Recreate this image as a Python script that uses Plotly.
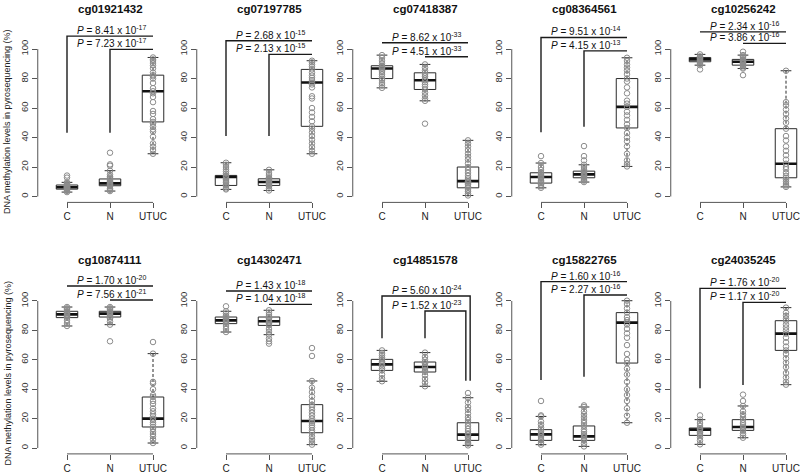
import plotly.graph_objects as go

# ---------------- data ----------------
probes = ["cg01921432", "cg07197785", "cg07418387", "cg08364561", "cg10256242",
          "cg10874111", "cg14302471", "cg14851578", "cg15822765", "cg24035245"]
group_labels = ["C", "N", "UTUC"]
y_ticks = [0, 20, 40, 60, 80, 100]

# five-number summaries: [lower whisker, Q1, median, Q3, upper whisker]
box_C = [[3.0, 5.0, 6.3, 7.8, 9.6], [4.8, 7.5, 13.2, 14.3, 22.9], [73.7, 80.0, 86.8, 88.7, 95.9],
         [5.9, 9.1, 13.2, 16.1, 22.7], [89.1, 91.4, 93.0, 94.3, 96.4], [83.0, 88.7, 90.9, 93.0, 95.9],
         [78.9, 84.6, 86.8, 89.1, 93.0], [45.4, 52.8, 56.9, 60.3, 66.4], [2.3, 5.2, 9.3, 12.5, 21.5],
         [2.5, 8.6, 12.5, 13.6, 19.3]]
box_N = [[3.7, 7.3, 8.9, 11.9, 17.5], [4.1, 7.5, 9.8, 12.0, 18.1], [64.9, 72.6, 78.9, 83.9, 89.6],
         [9.8, 12.7, 15.0, 17.2, 21.5], [86.8, 89.1, 91.4, 93.0, 95.9], [83.9, 89.1, 91.4, 93.0, 95.9],
         [77.1, 83.4, 86.2, 89.1, 93.7], [42.0, 51.7, 55.1, 58.5, 64.9], [1.1, 5.2, 7.9, 15.0, 27.9],
         [7.0, 12.0, 14.3, 19.3, 28.6]]
box_U = [[29.0, 50.6, 71.4, 82.3, 94.3], [29.0, 47.6, 77.3, 86.2, 92.1], [0.7, 5.9, 10.4, 20.0, 38.1],
         [20.4, 46.5, 60.8, 80.0, 94.1], [6.5, 12.7, 22.2, 46.0, 85.3], [3.4, 14.3, 20.0, 34.7, 64.2],
         [2.3, 10.4, 18.4, 29.5, 45.6], [1.8, 5.2, 9.1, 17.2, 34.2], [17.2, 57.8, 85.3, 92.1, 100.2],
         [43.1, 66.4, 77.8, 86.6, 95.5]]

# individual samples
pts_C = [
    [3.0, 3.8, 4.5, 5.0, 5.3, 5.8, 6.0, 6.2, 6.4, 6.5, 6.8, 7.0, 7.3, 7.8, 8.4, 9.0, 9.6, 12.8, 14.2],
    [4.8, 5.5, 6.5, 7.5, 8.2, 9.5, 10.5, 11.5, 12.5, 13.2, 13.8, 14.3, 15.5, 17.0, 18.5, 20.0, 21.5, 22.9],
    [73.7, 75.5, 77.0, 79.0, 80.0, 81.5, 83.0, 84.5, 85.5, 86.8, 87.5, 88.0, 88.7, 90.0, 92.0, 94.0, 95.9],
    [5.9, 7.0, 8.0, 9.1, 10.0, 11.0, 12.0, 12.8, 13.2, 13.8, 14.5, 15.2, 16.1, 18.0, 20.0, 22.7, 27.4],
    [86.2, 89.1, 90.0, 91.0, 91.4, 92.0, 92.5, 93.0, 93.4, 93.8, 94.3, 95.0, 96.4],
    [83.0, 85.0, 87.0, 88.7, 89.5, 90.2, 90.9, 91.5, 92.0, 92.5, 93.0, 94.0, 95.0, 95.9],
    [78.9, 81.0, 83.0, 84.6, 85.5, 86.3, 86.8, 87.5, 88.2, 89.1, 90.0, 91.5, 93.0, 96.4],
    [45.4, 47.5, 50.0, 52.8, 54.0, 55.5, 56.9, 58.0, 59.0, 60.3, 61.5, 63.0, 64.5, 66.4],
    [2.3, 3.5, 5.2, 6.0, 7.5, 8.5, 9.3, 10.0, 11.0, 12.5, 14.0, 16.0, 18.0, 21.5, 22.2, 32.0],
    [2.5, 5.0, 7.0, 8.6, 9.5, 10.5, 11.5, 12.5, 13.0, 13.6, 15.0, 17.0, 19.3, 22.2],
]
pts_N = [
    [3.7, 4.5, 5.5, 6.8, 7.3, 7.9, 8.5, 8.9, 9.5, 10.2, 11.0, 11.9, 12.6, 13.5, 14.8, 17.5, 20.9, 21.8, 29.7],
    [4.1, 5.5, 6.8, 7.5, 8.3, 9.0, 9.5, 9.8, 10.3, 11.0, 11.6, 12.0, 13.0, 14.5, 16.0, 18.1],
    [49.4, 64.9, 66.5, 68.5, 70.5, 72.6, 74.5, 76.0, 77.5, 78.9, 80.0, 81.5, 82.5, 83.9, 85.5, 87.5, 89.6],
    [9.8, 10.8, 11.8, 12.7, 13.4, 14.0, 14.6, 15.0, 15.6, 16.2, 17.2, 18.5, 20.0, 21.5, 24.5, 27.4, 34.2],
    [82.3, 86.8, 87.5, 88.5, 89.1, 90.0, 90.5, 91.0, 91.4, 92.0, 92.5, 93.0, 94.0, 95.0, 95.9, 98.2],
    [72.6, 83.9, 86.0, 88.0, 89.1, 90.0, 90.8, 91.4, 92.0, 92.5, 93.0, 94.0, 95.0, 95.9],
    [71.0, 72.6, 74.4, 77.1, 79.0, 81.0, 83.4, 84.5, 85.5, 86.2, 87.0, 88.0, 89.1, 90.5, 92.0, 93.7],
    [42.0, 44.5, 47.0, 49.5, 51.7, 53.0, 54.5, 55.1, 56.0, 57.5, 58.5, 60.0, 62.0, 64.9],
    [1.1, 3.0, 5.2, 6.0, 7.0, 7.9, 8.5, 9.5, 11.0, 12.5, 15.0, 17.0, 19.0, 21.0, 23.0, 25.0, 27.9, 29.0],
    [7.0, 8.5, 10.0, 12.0, 13.0, 14.3, 15.5, 17.0, 19.3, 21.0, 23.0, 25.0, 28.6, 32.0, 36.3],
]
pts_U = [
    [29.0, 31.5, 33.8, 36.0, 40.5, 44.0, 45.5, 47.5, 49.5, 50.6, 52.5, 56.0, 58.0, 64.0, 67.5, 70.0, 71.4,
     73.5, 77.0, 80.0, 81.5, 82.3, 84.0, 87.0, 89.0, 90.5, 92.0, 93.0, 94.3],
    [29.0, 31.0, 33.5, 36.0, 38.5, 41.0, 43.5, 46.0, 47.6, 51.0, 54.0, 57.0, 60.0, 66.5, 68.0, 74.0, 76.0,
     77.3, 79.0, 80.5, 82.0, 84.0, 86.2, 88.0, 89.5, 91.0, 92.1],
    [0.7, 2.0, 3.5, 4.5, 5.9, 7.0, 8.0, 9.0, 10.0, 10.4, 11.5, 12.5, 14.0, 16.0, 18.0, 20.0, 22.5, 25.0,
     27.0, 29.0, 31.5, 34.0, 36.0, 38.1],
    [20.4, 22.0, 24.5, 29.0, 34.0, 37.5, 40.0, 43.0, 46.5, 49.0, 52.0, 55.0, 57.5, 60.8, 63.0, 65.0, 70.0,
     74.0, 78.0, 80.0, 83.0, 85.5, 87.5, 89.5, 92.0, 94.1],
    [6.5, 7.5, 8.5, 10.0, 11.5, 12.7, 14.0, 16.0, 18.5, 20.0, 22.2, 25.0, 28.0, 31.0, 34.0, 38.0, 41.0,
     46.0, 50.0, 53.0, 56.0, 59.0, 62.0, 64.0, 85.3],
    [3.4, 6.0, 8.0, 9.5, 11.0, 13.0, 14.3, 16.0, 17.5, 19.0, 20.0, 21.5, 23.0, 25.0, 27.0, 30.0, 32.0,
     34.7, 36.0, 40.0, 44.0, 45.0, 64.2, 72.1],
    [2.3, 4.0, 6.0, 8.0, 10.4, 12.0, 14.0, 15.5, 17.0, 18.4, 20.0, 22.0, 24.0, 26.0, 28.0, 29.5, 32.0,
     35.0, 38.0, 41.0, 45.6, 62.6, 68.0],
    [1.8, 3.0, 4.0, 5.2, 6.0, 7.0, 8.0, 9.1, 10.0, 11.5, 13.0, 15.0, 17.2, 19.0, 21.0, 23.5, 26.0, 28.0,
     31.0, 34.2, 37.4],
    [17.2, 22.0, 27.0, 32.0, 36.0, 40.0, 45.0, 50.0, 54.0, 57.8, 60.0, 64.0, 70.0, 75.0, 78.0, 81.0, 84.0,
     85.3, 87.0, 89.0, 92.1, 95.0, 98.0, 100.2],
    [43.1, 45.0, 48.0, 51.0, 55.0, 58.0, 61.0, 64.0, 66.4, 69.0, 72.0, 75.0, 77.8, 80.0, 82.0, 84.0, 86.6,
     88.0, 90.0, 92.0, 95.5],
]

# P-values (C vs UTUC on top, N vs UTUC below)
p_top_mant = ["8.41", "2.68", "8.62", "9.51", "2.34", "1.70", "1.43", "5.60", "1.60", "1.76"]
p_top_exp = ["-17", "-15", "-33", "-14", "-16", "-20", "-18", "-24", "-16", "-20"]
p_sec_mant = ["7.23", "2.13", "4.51", "4.15", "3.86", "7.56", "1.04", "1.52", "2.27", "1.17"]
p_sec_exp = ["-17", "-15", "-33", "-13", "-16", "-21", "-18", "-23", "-16", "-20"]

# bracket heights and drop ends (y values), None = no vertical leg
bracket_top_y = [108.8, 105.6, 104.3, 107.9, 111.7, 110.2, 106.8, 103.4, 113.2, 108.6]
bracket_sec_y = [99.8, 96.4, 94.8, 98.8, 103.9, 100.7, 97.7, 93.2, 104.1, 99.1]
drop_C = [43.3, 41.0, None, 43.5, None, None, None, 74.6, 46.3, 40.6]
drop_N = [43.3, 41.0, None, 47.3, None, None, None, 74.6, 48.5, 42.9]
drop_U = [None, None, None, None, None, None, None, 45.8, None, None]

# ---------------- layout geometry ----------------
W, H = 800, 474
col_C_px = [67, 226, 382, 541, 700]
ppu = 43.0
left_units = 0.68
row_dom = [[0.573, 0.940], [0.0424, 0.4084]]
y_range = [-4, 114]
title_px = [9, 260]
ylab_px = [122, 373.5]

FONT = "Liberation Sans, Arial, sans-serif"
LINE = "#2b2b2b"
AXC = "#555555"
PTC = "#8c8c8c"
hw = 0.25   # half box width
sw = 0.125  # half staple width

fig = go.Figure()
layout = {}
shapes = []
annotations = []

for i, probe in enumerate(probes):
    r, c = divmod(i, 5)
    suf = "" if i == 0 else str(i + 1)
    xr, yr = "x" + suf, "y" + suf
    C = col_C_px[c]
    x0px = C - left_units * ppu
    x1px = min(C + 2.62 * ppu, W)
    xrange = [1 - left_units, 1 + (x1px - C) / ppu]

    boxes = [box_C[i], box_N[i], box_U[i]]
    pts = [pts_C[i], pts_N[i], pts_U[i]]

    bx, by, mx, my, wx, wy, sx, sy = [], [], [], [], [], [], [], []
    for g, (lo, q1, med, q3, hi) in enumerate(boxes, start=1):
        bx += [g - hw, g + hw, g + hw, g - hw, g - hw, None]
        by += [q1, q1, q3, q3, q1, None]
        mx += [g - hw, g + hw, None]
        my += [med, med, None]
        wx += [g, g, None, g, g, None]
        wy += [q3, hi, None, q1, lo, None]
        sx += [g - sw, g + sw, None, g - sw, g + sw, None]
        sy += [hi, hi, None, lo, lo, None]

    common = dict(xaxis=xr, yaxis=yr, showlegend=False, hoverinfo="skip")
    fig.add_trace(go.Scatter(x=wx, y=wy, mode="lines", line=dict(color=LINE, width=1, dash="3px,2px"), **common))
    fig.add_trace(go.Scatter(x=sx, y=sy, mode="lines", line=dict(color=LINE, width=1), **common))
    fig.add_trace(go.Scatter(x=bx, y=by, mode="lines", line=dict(color=LINE, width=1), **common))
    fig.add_trace(go.Scatter(x=mx, y=my, mode="lines", line=dict(color="#111111", width=2.6), **common))

    px_, py_ = [], []
    for g, vals in enumerate(pts, start=1):
        px_ += [g] * len(vals)
        py_ += vals
    fig.add_trace(go.Scatter(x=px_, y=py_, mode="markers",
                             marker=dict(symbol="circle-open", size=5.5, color=PTC, line=dict(width=1, color=PTC)),
                             xaxis=xr, yaxis=yr, showlegend=False))

    # brackets
    top, sec = bracket_top_y[i], bracket_sec_y[i]
    ux_top = 3.05 if drop_U[i] is not None else 3
    ux_sec = 2.95 if drop_U[i] is not None else 3
    kx = [1, 1, ux_top, ux_top, None, 2, 2, ux_sec, ux_sec]
    ky = [drop_C[i] if drop_C[i] is not None else top, top, top,
          drop_U[i] if drop_U[i] is not None else top, None,
          drop_N[i] if drop_N[i] is not None else sec, sec, sec,
          drop_U[i] if drop_U[i] is not None else sec]
    fig.add_trace(go.Scatter(x=kx, y=ky, mode="lines", line=dict(color="#1a1a1a", width=1.4), **common))

    for yv, mant, ex in [(top, p_top_mant[i], p_top_exp[i]), (sec, p_sec_mant[i], p_sec_exp[i])]:
        annotations.append(dict(x=3, y=yv, xref=xr, yref=yr, xanchor="right", yanchor="bottom",
                                xshift=-5, yshift=-2, showarrow=False,
                                text=f"<i>P</i> = {mant} x 10<sup>{ex}</sup>",
                                font=dict(family=FONT, size=10, color="#111111")))

    # titles
    annotations.append(dict(x=(C + ppu) / W, y=1 - title_px[r] / H, xref="paper", yref="paper",
                            xanchor="center", yanchor="middle", showarrow=False, text=f"<b>{probe}</b>",
                            font=dict(family=FONT, size=11.5, color="#111111")))

    layout["xaxis" + suf] = dict(domain=[x0px / W, x1px / W], range=xrange, anchor=yr,
                                 tickvals=[1, 2, 3], ticktext=group_labels, ticks="outside", ticklen=5,
                                 tickcolor=AXC, tickwidth=1, showline=False, showgrid=False, zeroline=False,
                                 tickfont=dict(family=FONT, size=10, color="#222222"), fixedrange=True)
    layout["yaxis" + suf] = dict(domain=row_dom[r], range=y_range, anchor=xr,
                                 tickvals=y_ticks, tickangle=-90, ticks="outside", ticklen=5,
                                 tickcolor=AXC, tickwidth=1, showline=False, showgrid=False, zeroline=False,
                                 tickfont=dict(family=FONT, size=9.5, color="#333333"), fixedrange=True)

    shapes.append(dict(type="line", xref=xr + " domain", yref=yr, x0=0, x1=0, y0=0, y1=100,
                       line=dict(color=AXC, width=1)))
    shapes.append(dict(type="line", xref=xr, yref=yr + " domain", x0=1, x1=3, y0=0, y1=0,
                       line=dict(color=AXC, width=1)))

for r in range(2):
    annotations.append(dict(x=7 / W, y=1 - ylab_px[r] / H, xref="paper", yref="paper",
                            xanchor="center", yanchor="middle", textangle=-90, showarrow=False,
                            text="DNA methylation levels in pyrosequencing (%)",
                            font=dict(family=FONT, size=9, color="#222222")))

fig.update_layout(width=W, height=H, margin=dict(l=0, r=0, t=0, b=0),
                  paper_bgcolor="white", plot_bgcolor="white", hovermode=False,
                  shapes=shapes, annotations=annotations, **layout)

fig.write_html("out.html", config={"displayModeBar": False, "staticPlot": True},
               post_script="document.body.style.margin='0px';document.body.style.overflow='hidden';")
